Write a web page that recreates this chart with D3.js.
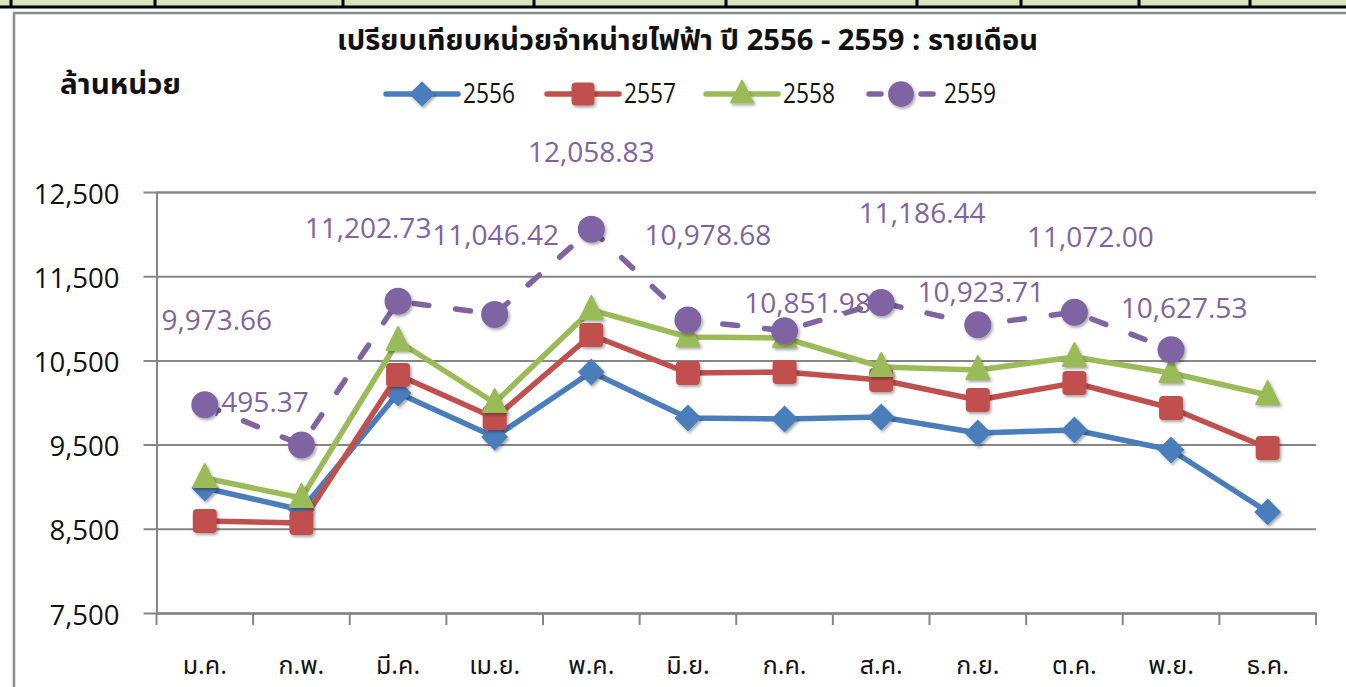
<!DOCTYPE html>
<html>
<head>
<meta charset="utf-8">
<script src="https://cdn.jsdelivr.net/npm/d3@7"></script>
<style>
  html, body { margin: 0; padding: 0; background: #fff; }
  svg { display: block; }
</style>
</head>
<body>
<svg id="chart" width="1346" height="687"></svg>
<script>
// ---------- data ----------
const months = ["ม.ค.","ก.พ.","มี.ค.","เม.ย.","พ.ค.","มิ.ย.","ก.ค.","ส.ค.","ก.ย.","ต.ค.","พ.ย.","ธ.ค."];
const years = ["2556","2557","2558","2559"];
const s2556 = [8985, 8723, 10113, 9590, 10362, 9816, 9804, 9828, 9638, 9674, 9436, 8700];
const s2557 = [8593, 8569, 10327, 9816, 10802, 10350, 10362, 10267, 10030, 10232, 9935, 9460];
const s2558 = [9103, 8866, 10730, 9994, 11099, 10778, 10766, 10422, 10386, 10540, 10350, 10089];
const s2559 = [9973.66, 9495.37, 11202.73, 11046.42, 12058.83, 10978.68, 10851.98, 11186.44, 10923.71, 11072.00, 10627.53, null];
const yTicks = [7500, 8500, 9500, 10500, 11500, 12500];
const titleText = "เปรียบเทียบหน่วยจำหน่ายไฟฟ้า ปี 2556 - 2559 : รายเดือน";
const unitText = "ล้านหน่วย";

// ---------- layout / style ----------
const thaiFont = "'Noto Sans Thai','Noto Sans Thai UI','Loma','Garuda','Tlwg Typo','Noto Sans',sans-serif";
const numFont = "'Open Sans','Noto Sans',sans-serif";
const colors = {"2556":"#4a7ebb","2557":"#c0504d","2558":"#9bbb59","2559":"#8064a2"};
const shapes = {"2556":"diamond","2557":"square","2558":"triangle","2559":"circle"};
// manual label offsets (pixels relative to point), as placed in the original
const labelOffsets = [[12,-85],[-48,-43],[-30,-73],[1,-79],[0,-77],[20,-85],[23,-28],[41,-90],[3,-33],[16,-75],[13,-42]];

const svg = d3.select("#chart");
const plot = {left: 156.5, right: 1316, top: 192, bottom: 613};

const defs = svg.append("defs");
const f = defs.append("filter").attr("id","shadow").attr("x","-50%").attr("y","-50%").attr("width","200%").attr("height","200%");
f.append("feDropShadow").attr("dx",1.5).attr("dy",2).attr("stdDeviation",1.8).attr("flood-color","#000").attr("flood-opacity",0.35);

// top strip (table fragment)
svg.append("rect").attr("x",0).attr("y",0).attr("width",1346).attr("height",6).attr("fill","#d8e4bc");
svg.append("rect").attr("x",0).attr("y",5.5).attr("width",1346).attr("height",3).attr("fill","#000");
[11, 155, 343, 534, 726, 917, 1021, 1139, 1250].forEach(x => {
  svg.append("rect").attr("x",x-1.5).attr("y",0).attr("width",3).attr("height",8).attr("fill","#000");
});
// chart frame
svg.append("path").attr("d","M14,687V13H1346").attr("fill","none").attr("stroke","#8c8c8c").attr("stroke-width",2.5);

// scales
const x = d3.scaleBand().domain(months).range([plot.left, plot.right]);
const y = d3.scaleLinear().domain([7500, 12500]).range([plot.bottom, plot.top]);
const cx = m => x(m) + x.bandwidth()/2;

// gridlines + y axis
const yAxis = d3.axisLeft(y).tickValues(yTicks).tickSize(-(plot.right - plot.left)).tickPadding(25)
  .tickFormat(d3.format(","));
const gy = svg.append("g").attr("transform",`translate(${plot.left},0)`).call(yAxis);
gy.select(".domain").attr("stroke","#868686").attr("stroke-width",2);
gy.selectAll(".tick line").attr("stroke","#868686").attr("stroke-width",2).attr("x1",-13);
gy.selectAll(".tick text").attr("font-family",numFont).attr("font-size",27.5).attr("fill","#111").attr("dy","0.4em").attr("x",-37);

// x axis
const xAxis = d3.axisBottom(x).tickSize(0).tickPadding(0);
const gx = svg.append("g").attr("transform",`translate(0,${plot.bottom})`).call(xAxis);
gx.select(".domain").attr("stroke","#868686").attr("stroke-width",2);
gx.selectAll(".tick text").attr("font-family",thaiFont).attr("font-size",25).attr("fill","#111").attr("y",61).attr("dy",0);
// tick marks at band edges
const edges = months.map(m => x(m)).concat([plot.right]);
svg.append("g").selectAll("line").data(edges).join("line")
  .attr("x1",d=>d).attr("x2",d=>d).attr("y1",plot.bottom).attr("y2",plot.bottom+12)
  .attr("stroke","#868686").attr("stroke-width",2);

// title & unit
svg.append("text").attr("x",337).attr("y",50)
  .attr("font-family",thaiFont).attr("font-weight","bold").attr("font-size",28).attr("fill","#111")
  .attr("textLength",701).attr("lengthAdjust","spacingAndGlyphs")
  .text(titleText);
svg.append("text").attr("x",60).attr("y",94)
  .attr("font-family",thaiFont).attr("font-weight","bold").attr("font-size",28).attr("fill","#111")
  .attr("textLength",121).attr("lengthAdjust","spacingAndGlyphs")
  .text(unitText);

// marker generator
function marker(g, shape, color, px, py, s) {
  const k = s || 1;
  let el;
  if (shape === "diamond") {
    el = g.append("path").attr("d",`M${px},${py-12*k}L${px+12*k},${py}L${px},${py+12*k}L${px-12*k},${py}Z`);
  } else if (shape === "square") {
    el = g.append("rect").attr("x",px-11*k).attr("y",py-11*k).attr("width",22*k).attr("height",22*k).attr("rx",3);
  } else if (shape === "triangle") {
    el = g.append("path").attr("d",`M${px},${py-14*k}L${px+11.5*k},${py+9*k}L${px-11.5*k},${py+9*k}Z`).attr("stroke-linejoin","round");
  } else {
    el = g.append("circle").attr("cx",px).attr("cy",py).attr("r",12.5*k);
  }
  el.attr("fill",color).attr("stroke",color).attr("stroke-width",2).attr("filter","url(#shadow)");
}

// data labels (drawn beneath series, as in the original)
const lbl = svg.append("g");
s2559.forEach((v,i) => {
  if (v == null) return;
  const o = labelOffsets[i];
  lbl.append("text").attr("x",cx(months[i]) + o[0]).attr("y",y(v) + o[1])
    .attr("text-anchor","middle").attr("dy","0.36em")
    .attr("font-family",numFont).attr("font-size",28).attr("fill","#7f63a1")
    .text(d3.format(",.2f")(v));
});

// series
const seriesData = {"2556": s2556, "2557": s2557, "2558": s2558, "2559": s2559};
const line = d3.line().defined(d => d.v != null).x(d => cx(d.m)).y(d => y(d.v));
years.forEach(yr => {
  const pts = seriesData[yr].map((v,i) => ({m: months[i], v}));
  const g = svg.append("g");
  g.append("path").datum(pts).attr("d",line).attr("fill","none").attr("stroke",colors[yr])
    .attr("stroke-width",5.5).attr("stroke-linejoin","round")
    .attr("stroke-linecap", yr === "2559" ? "round" : "butt")
    .attr("stroke-dasharray", yr === "2559" ? "15,27" : null);
  pts.forEach(p => { if (p.v != null) marker(g, shapes[yr], colors[yr], cx(p.m), y(p.v)); });
});

// legend
const legendX = [386, 547, 706, 867];
const lg = svg.append("g");
years.forEach((yr,i) => {
  const x0 = legendX[i], ly = 94;
  if (yr === "2559") {
    lg.append("line").attr("x1",x0+2).attr("x2",x0+14).attr("y1",ly).attr("y2",ly).attr("stroke",colors[yr]).attr("stroke-width",5.5).attr("stroke-linecap","round");
    lg.append("line").attr("x1",x0+54).attr("x2",x0+66).attr("y1",ly).attr("y2",ly).attr("stroke",colors[yr]).attr("stroke-width",5.5).attr("stroke-linecap","round");
  } else {
    lg.append("line").attr("x1",x0).attr("x2",x0+72).attr("y1",ly).attr("y2",ly).attr("stroke",colors[yr]).attr("stroke-width",5.5).attr("stroke-linecap","round");
  }
  marker(lg, shapes[yr], colors[yr], yr === "2559" ? x0+34 : x0+36, ly, 0.95);
  lg.append("text").attr("x", x0+77).attr("y",103)
    .attr("font-family",numFont).attr("font-size",28).attr("fill","#111")
    .attr("textLength",52).attr("lengthAdjust","spacingAndGlyphs").text(yr);
});
</script>
</body>
</html>
